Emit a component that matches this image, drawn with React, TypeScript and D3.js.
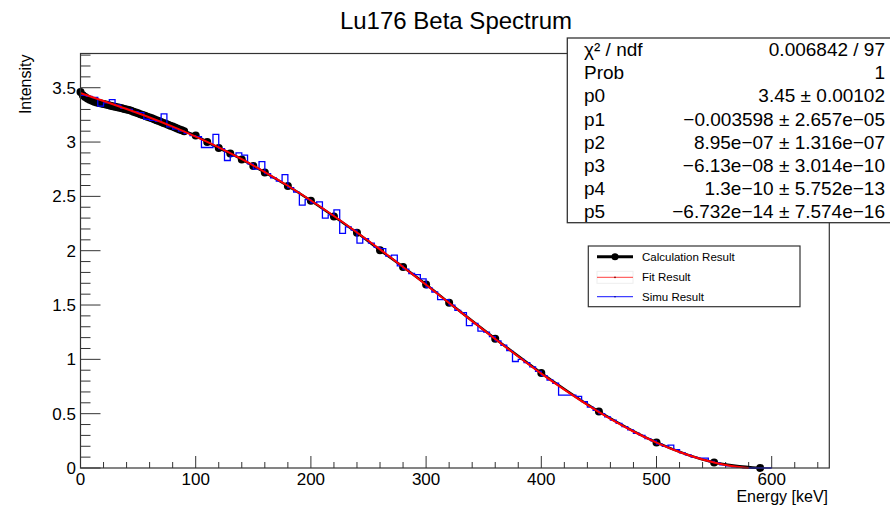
import React from "react";
import * as d3 from "d3";

// ---- data ----
const calcEnergy = [
  0, 2, 4, 6, 8, 10, 12, 14, 16, 18, 20, 22, 24, 26, 28, 30, 32, 34, 36, 38, 40,
  42, 44, 46, 48, 50, 52, 54, 56, 58, 60, 62, 64, 66, 68, 70, 72, 74, 76, 78, 80,
  82, 84, 86, 88, 90, 100, 110, 120, 130, 140, 150, 160, 180, 200, 220, 240, 260,
  280, 300, 320, 360, 400, 450, 500, 550, 590,
];
const calcValues = [
  3.46, 3.43, 3.415, 3.4, 3.39, 3.38, 3.37, 3.365, 3.36, 3.355, 3.35, 3.345, 3.34,
  3.335, 3.33, 3.325, 3.32, 3.315, 3.31, 3.305, 3.3, 3.296, 3.288, 3.28, 3.272,
  3.265, 3.257, 3.249, 3.241, 3.234, 3.226, 3.218, 3.21, 3.201, 3.193, 3.185,
  3.176, 3.168, 3.159, 3.15, 3.142, 3.133, 3.124, 3.115, 3.108, 3.1, 3.06, 3.0,
  2.945, 2.895, 2.84, 2.78, 2.72, 2.595, 2.46, 2.315, 2.165, 2.005, 1.85, 1.69,
  1.52, 1.19, 0.875, 0.52, 0.235, 0.05, 0.0,
];

const fitEnergy = [
  0, 20, 40, 60, 80, 100, 120, 140, 160, 180, 200, 220, 240, 260, 280, 300, 320,
  340, 360, 380, 400, 420, 440, 460, 480, 500, 520, 540, 560, 580,
];
const fitValues = [
  3.45, 3.378, 3.304, 3.226, 3.142, 3.05, 2.951, 2.842, 2.724, 2.598, 2.462,
  2.319, 2.168, 2.012, 1.85, 1.686, 1.519, 1.352, 1.187, 1.026, 0.869, 0.721,
  0.581, 0.452, 0.336, 0.234, 0.147, 0.078, 0.028, 0.0,
];

// simulated histogram, 5 keV bins starting at 0
const simuBinWidth = 5;
const simuValues = [
  3.43, 3.42, 3.41, 3.33, 3.36, 3.39, 3.34, 3.31, 3.3, 3.28, 3.27, 3.21, 3.2,
  3.19, 3.26, 3.14, 3.12, 3.1, 3.08, 3.06, 3.05, 2.95, 2.95, 3.07, 2.94, 2.83,
  2.87, 2.9, 2.88, 2.8, 2.75, 2.82, 2.71, 2.67, 2.64, 2.7, 2.58, 2.54, 2.42,
  2.47, 2.44, 2.45, 2.3, 2.33, 2.375, 2.16, 2.22, 2.19, 2.07, 2.11, 2.07, 2.03,
  2.02, 1.95, 1.96, 1.86, 1.83, 1.79, 1.78, 1.74, 1.66, 1.62, 1.55, 1.55, 1.5,
  1.45, 1.43, 1.31, 1.33, 1.26, 1.25, 1.21, 1.17, 1.13, 1.08, 0.98, 1.0, 0.97,
  0.93, 0.89, 0.85, 0.81, 0.78, 0.67, 0.67, 0.67, 0.66, 0.61, 0.56, 0.53, 0.5,
  0.47, 0.44, 0.41, 0.38, 0.35, 0.32, 0.3, 0.27, 0.25, 0.22, 0.2, 0.21, 0.17,
  0.14, 0.12, 0.1, 0.09, 0.09, 0.06, 0.05, 0.03, 0.02, 0.01, 0.005, 0.002, 0, 0,
  0, 0,
];

const xTickLabels = ["0", "100", "200", "300", "400", "500", "600"];
const yTickLabels = ["0", "0.5", "1", "1.5", "2", "2.5", "3", "3.5"];

const statsRows = [
  ["χ² / ndf", "0.006842 / 97"],
  ["Prob", "1"],
  ["p0", "3.45 ± 0.00102"],
  ["p1", "−0.003598 ± 2.657e−05"],
  ["p2", "8.95e−07 ± 1.316e−07"],
  ["p3", "−6.13e−08 ± 3.014e−10"],
  ["p4", "1.3e−10 ± 5.752e−13"],
  ["p5", "−6.732e−14 ± 7.574e−16"],
];

const legendLabels = ["Calculation Result", "Fit Result", "Simu Result"];

// ---- layout ----
const W = 890;
const H = 506;
const L = 80.5;
const R = 829.3;
const T = 53.5;
const B = 468;
const FONT = "'Liberation Sans', Arial, Helvetica, sans-serif";
const FRAME = "#333";

export default function App() {
  const x = d3.scaleLinear().domain([0, 650]).range([L, R]);
  const y = d3.scaleLinear().domain([0, 3.815]).range([B, T]);

  const calcPts = calcEnergy.map((e, i) => [e, calcValues[i]] as [number, number]);
  const calcLine = d3
    .line<[number, number]>()
    .x((d) => x(d[0]))
    .y((d) => y(d[1]))
    .curve(d3.curveMonotoneX)(calcPts);

  const fitPts = fitEnergy.map((e, i) => [e, fitValues[i]] as [number, number]);
  const fitLine = d3
    .line<[number, number]>()
    .x((d) => x(d[0]))
    .y((d) => y(d[1]))
    .curve(d3.curveMonotoneX)(fitPts);

  const histPts: [number, number][] = simuValues.map((v, i) => [i * simuBinWidth, v]);
  histPts.push([simuValues.length * simuBinWidth, simuValues[simuValues.length - 1]]);
  const histLine = d3
    .line<[number, number]>()
    .x((d) => x(d[0]))
    .y((d) => y(d[1]))
    .curve(d3.curveStepAfter)(histPts);

  const yMinor = d3.range(0, 3.81, 0.1);
  const xMinor = d3.range(0, 641, 20);

  const statsLeft = 567.3;
  const statsTop = 38;
  const statsBottom = 222.7;
  const rowH = 23.2;

  const legL = 588.3;
  const legT = 246;
  const legR = 800;
  const legB = 306.7;
  const legRowY = [256.7, 277.3, 296.7];

  return (
    <svg width={W} height={H} style={{ position: "absolute", left: 0, top: 0, background: "#fff" }}>
      <rect x={0} y={0} width={W} height={H} fill="#fff" />
      {/* title */}
      <text x={456} y={28.5} textAnchor="middle" fontFamily={FONT} fontSize={24} fill="#000">
        Lu176 Beta Spectrum
      </text>

      {/* y axis ticks */}
      {yMinor.map((v, i) => {
        const major = Math.abs(v * 2 - Math.round(v * 2)) < 1e-6;
        return (
          <line
            key={"ym" + i}
            x1={L}
            x2={L + (major ? 20 : 10)}
            y1={y(v)}
            y2={y(v)}
            stroke={FRAME}
            strokeWidth={1}
          />
        );
      })}
      {yTickLabels.map((t, i) => (
        <text
          key={"yl" + i}
          x={76}
          y={y(+t) + 6}
          textAnchor="end"
          fontFamily={FONT}
          fontSize={17}
          fill="#000"
        >
          {t}
        </text>
      ))}

      {/* x axis ticks */}
      {xMinor.map((v, i) => {
        const major = v % 100 === 0;
        return (
          <line
            key={"xm" + i}
            x1={x(v)}
            x2={x(v)}
            y1={B}
            y2={B - (major ? 12 : 6)}
            stroke={FRAME}
            strokeWidth={1}
          />
        );
      })}
      {xTickLabels.map((t, i) => (
        <text
          key={"xl" + i}
          x={x(+t)}
          y={485}
          textAnchor="middle"
          fontFamily={FONT}
          fontSize={17}
          fill="#000"
        >
          {t}
        </text>
      ))}

      {/* axis titles */}
      <text
        transform={`translate(31,${T + 1}) rotate(-90)`}
        textAnchor="end"
        fontFamily={FONT}
        fontSize={16}
        fill="#000"
      >
        Intensity
      </text>
      <text x={828} y={502} textAnchor="end" fontFamily={FONT} fontSize={16} fill="#000">
        Energy [keV]
      </text>

      {/* data */}
      <path d={calcLine || ""} fill="none" stroke="#000" strokeWidth={2.5} />
      {calcPts.map((d, i) => (
        <circle key={"c" + i} cx={x(d[0])} cy={y(d[1])} r={4} fill="#000" />
      ))}
      <path d={histLine || ""} fill="none" stroke="#0000ff" strokeWidth={1.3} />
      <path d={fitLine || ""} fill="none" stroke="#ff0000" strokeWidth={2} />

      {/* frame */}
      <rect x={L} y={T} width={R - L} height={B - T} fill="none" stroke={FRAME} strokeWidth={1.2} />

      {/* stats box */}
      <rect
        x={statsLeft}
        y={statsTop}
        width={W - statsLeft + 2}
        height={statsBottom - statsTop}
        fill="#fff"
        stroke={FRAME}
        strokeWidth={1.3}
      />
      {statsRows.map((r, i) => {
        const by = statsTop + 18 + i * rowH;
        return (
          <g key={"s" + i}>
            <text x={584} y={by} fontFamily={FONT} fontSize={19} fill="#000">
              {r[0]}
            </text>
            <text x={885} y={by} textAnchor="end" fontFamily={FONT} fontSize={19} fill="#000">
              {r[1]}
            </text>
          </g>
        );
      })}

      {/* legend */}
      <rect
        x={legL}
        y={legT}
        width={legR - legL}
        height={legB - legT}
        fill="#fff"
        stroke={FRAME}
        strokeWidth={1.2}
      />
      <line x1={597} x2={633} y1={legRowY[0]} y2={legRowY[0]} stroke="#000" strokeWidth={3} />
      <circle cx={615} cy={legRowY[0]} r={3.5} fill="#000" />
      <rect x={597} y={legRowY[1] - 6} width={36} height={12} fill="none" stroke="#eee" strokeWidth={1} />
      <line x1={597} x2={633} y1={legRowY[1]} y2={legRowY[1]} stroke="#ff4040" strokeWidth={1} />
      <circle cx={615} cy={legRowY[1]} r={0.9} fill="#800" />
      <line x1={597} x2={633} y1={legRowY[2]} y2={legRowY[2]} stroke="#4040ff" strokeWidth={1.2} />
      <circle cx={615} cy={legRowY[2]} r={0.8} fill="#008" />
      {legendLabels.map((t, i) => (
        <text
          key={"lg" + i}
          x={642}
          y={legRowY[i] + 4}
          fontFamily={FONT}
          fontSize={11.5}
          fill="#000"
        >
          {t}
        </text>
      ))}
    </svg>
  );
}
